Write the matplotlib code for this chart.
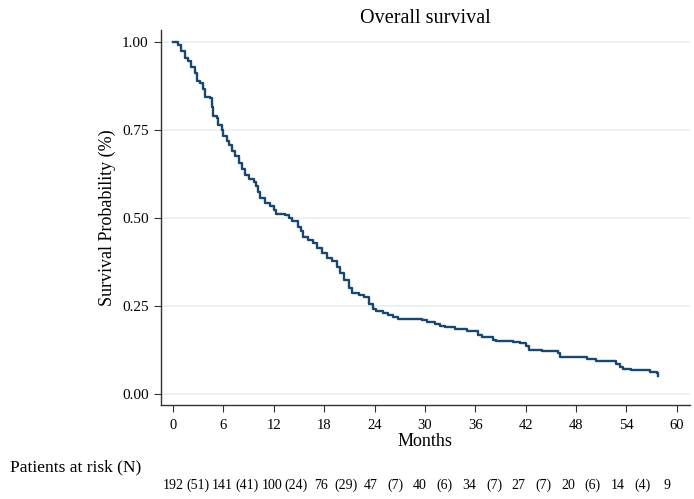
import numpy as np
import matplotlib
matplotlib.use("Agg")
import matplotlib.pyplot as plt

plt.rcParams['font.family'] = ['Liberation Serif', 'DejaVu Serif']

# Kaplan-Meier step points (months, survival after the step)
months = [0, 0.6, 1.0, 1.4, 1.8, 2.2, 2.6, 2.8, 3.2, 3.6, 3.8, 4.4, 4.6, 4.8,
          5.2, 5.4, 5.8, 6.0, 6.4, 6.7, 7.0, 7.4, 7.8, 8.2, 8.6, 9.1, 9.6,
          9.9, 10.1, 10.4, 10.9, 11.6, 12.0, 12.3, 13.3, 13.8, 14.2, 14.9,
          15.2, 15.5, 16.1, 16.7, 17.1, 17.7, 18.3, 18.9, 19.5, 19.9, 20.4,
          20.9, 21.3, 22.1, 22.7, 23.3, 23.8, 24.2, 25.0, 25.6, 26.2, 26.8,
          29.6, 30.3, 31.2, 31.8, 32.4, 33.6, 35.0, 36.3, 36.8, 38.1, 38.5,
          40.5, 41.3, 42.0, 42.4, 44.0, 45.9, 46.1, 49.3, 50.4, 52.8, 53.2,
          53.6, 54.6, 56.8, 57.6, 57.8]
surv = [1.0, 0.99, 0.975, 0.955, 0.945, 0.93, 0.911, 0.89, 0.883, 0.865,
        0.845, 0.84, 0.816, 0.79, 0.784, 0.765, 0.75, 0.733, 0.72, 0.707,
        0.69, 0.675, 0.656, 0.638, 0.622, 0.61, 0.603, 0.59, 0.575, 0.556,
        0.542, 0.534, 0.524, 0.513, 0.51, 0.501, 0.492, 0.475, 0.462, 0.447,
        0.438, 0.428, 0.414, 0.40, 0.386, 0.378, 0.362, 0.345, 0.325, 0.302,
        0.288, 0.283, 0.276, 0.257, 0.243, 0.236, 0.231, 0.224, 0.22, 0.215,
        0.212, 0.205, 0.20, 0.193, 0.19, 0.185, 0.179, 0.168, 0.163, 0.155,
        0.151, 0.149, 0.145, 0.138, 0.126, 0.122, 0.118, 0.105, 0.101, 0.095,
        0.085, 0.078, 0.073, 0.068, 0.063, 0.060, 0.052]

risk_times = [0, 6, 12, 18, 24, 30, 36, 42, 48, 54, 60]
at_risk = [192, 141, 100, 76, 47, 40, 34, 27, 20, 14, 9]
events = [51, 41, 24, 29, 7, 6, 7, 7, 6, 4]

fig = plt.figure(figsize=(6.94, 4.99), dpi=100)
ax = fig.add_axes([0.232, 0.188, 0.762, 0.752])

for yv in [0, 0.25, 0.5, 0.75, 1.0]:
    ax.axhline(yv, color='#eaf2f3', lw=1.4, zorder=0)

ax.step(months, surv, where='post', color='#1a476f', lw=1.7, zorder=3)

ax.set_xlim(-1.43, 61.55)
ax.set_ylim(-0.031, 1.034)
ax.set_xticks(risk_times)
ax.set_yticks([0, 0.25, 0.5, 0.75, 1.0])
ax.set_yticklabels(['0.00', '0.25', '0.50', '0.75', '1.00'])
ax.tick_params(axis='y', labelsize=11, length=5, pad=4, color='#333333')
ax.tick_params(axis='x', labelsize=10.5, length=5, pad=5, color='#333333')
for s in ['top', 'right']:
    ax.spines[s].set_visible(False)
for s in ['left', 'bottom']:
    ax.spines[s].set_color('#333333')
    ax.spines[s].set_linewidth(1.0)

ax.set_title('Overall survival', fontsize=14.5, pad=5)
ax.set_xlabel('Months', fontsize=13, labelpad=1)
ax.set_ylabel('Survival Probability (%)', fontsize=13, labelpad=4)

fig.text(10 / 694, 1 - 467 / 499, 'Patients at risk (N)', fontsize=12.5,
         ha='left', va='center')

trans = ax.get_xaxis_transform()
yrow = (405 - 485) / (405 - 30)
for t, n in zip(risk_times, at_risk):
    ax.text(t * 0.98, yrow, str(n), transform=trans, ha='center', va='center',
            fontsize=10, clip_on=False)
for i, e in enumerate(events):
    t = risk_times[i] + 3
    ax.text(t * 0.98, yrow, '(%d)' % e, transform=trans, ha='center',
            va='center', fontsize=10, clip_on=False)

fig.savefig('out.png', dpi=100)
